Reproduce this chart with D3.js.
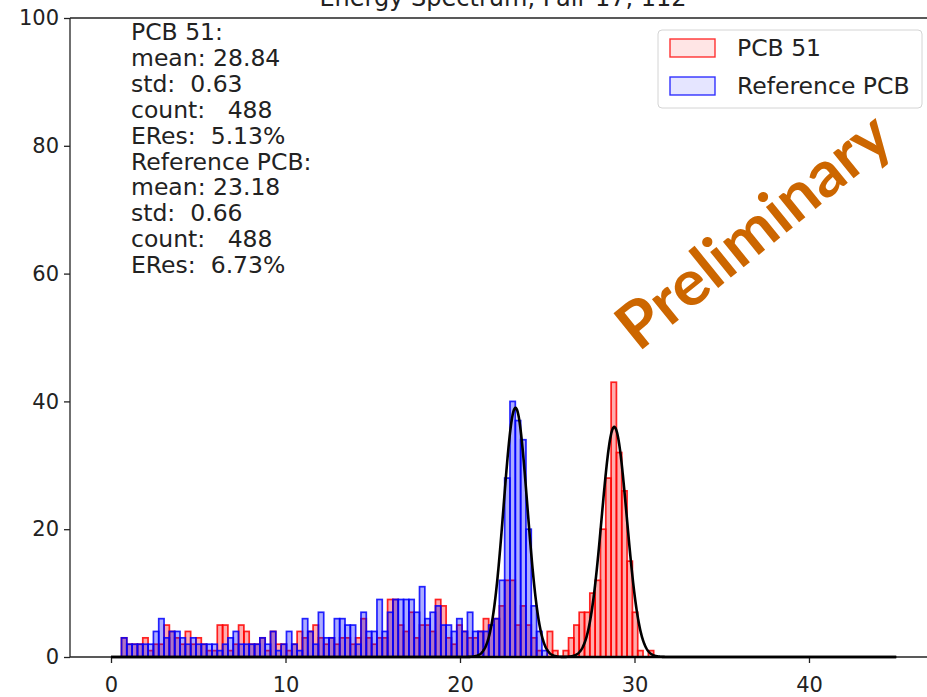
<!DOCTYPE html>
<html><head><meta charset="utf-8">
<script src="https://cdn.jsdelivr.net/npm/d3@7"></script>
<style>body{margin:0;background:#fff;} svg{display:block;font-family:"DejaVu Sans",sans-serif;}</style>
</head><body><svg id="c" width="927" height="697"></svg>
<script>
const titleText = "Energy Spectrum, Pair 17, 112";
const seriesNames = ["PCB 51", "Reference PCB"];
const binStart = 0.6;
const binWidth = 0.305;
const pcb51Counts = [
 3,2,2,2,3,1,2,2,5,4, 3,2,4,2,3,2,1,1,5,5,
 1,2,5,4,2,2,3,1,4,2, 2,1,2,4,3,4,5,3,2,3,
 2,3,3,2,3,6,3,2,3,3, 9,9,5,4,7,3,5,5,4,9,
 8,3,2,5,4,3,3,4,6,5, 6,8,12,12,5,8,5,3,1,0,
 4,1,0,1,3,5,7,7,10,12, 20,28,43,32,26,15,7,1,0,1];
const refCounts = [
 3,2,2,2,2,2,4,6,3,4, 4,3,2,3,2,2,2,2,1,2,
 3,4,2,2,2,2,3,2,4,1, 2,4,2,1,6,4,2,7,3,3,
 6,6,5,5,2,7,4,4,9,4, 7,9,9,9,9,7,11,6,7,8,
 5,5,4,6,4,7,4,4,4,5, 6,12,28,40,37,34,20,8,4,1,
 0,0,0,0,0,0,0,0,0,0, 0,0,0,0,0,0,0,0,0,0];
const fitMeans = [28.84, 23.18];
const fitStds = [0.72, 0.68];
const fitAmps = [36, 39];
const fitRange = [0, 45];
const statsLines = ["PCB 51:", "mean: 28.84", "std:  0.63", "count:   488", "ERes:  5.13%",
  "Reference PCB:", "mean: 23.18", "std:  0.66", "count:   488", "ERes:  6.73%"];
const xTicks = [0, 10, 20, 30, 40];
const yTicks = [0, 20, 40, 60, 80, 100];
const watermark = "Preliminary";

const colors = ["red", "blue"];
const svg = d3.select("#c");
const x = d3.scaleLinear().domain([-2.35, 47.25]).range([70, 935.5]);
const y = d3.scaleLinear().domain([0, 100]).range([657, 18]);

// title (partly cut off, as in the source image)
svg.append("text").attr("x", 503).attr("y", 6).attr("text-anchor", "middle")
  .attr("font-size", 24).attr("fill", "#222").text(titleText);

// bars
[pcb51Counts, refCounts].forEach((counts, si) => {
  const bins = counts.map((c, i) => ({x0: binStart + i * binWidth, x1: binStart + (i + 1) * binWidth, c}))
    .filter(d => d.c > 0);
  svg.append("g").selectAll("rect").data(bins).join("rect")
    .attr("x", d => x(d.x0)).attr("width", d => x(d.x1) - x(d.x0))
    .attr("y", d => y(d.c)).attr("height", d => y(0) - y(d.c))
    .attr("fill", colors[si]).attr("fill-opacity", 0.32)
    .attr("stroke", colors[si]).attr("stroke-opacity", 0.85).attr("stroke-width", 1.7);
});

// axes
const gx = svg.append("g").attr("transform", "translate(0,657)")
  .call(d3.axisBottom(x).tickValues(xTicks).tickSize(6).tickPadding(14).tickFormat(d3.format("d")));
const gy = svg.append("g").attr("transform", "translate(70,0)")
  .call(d3.axisLeft(y).tickValues(yTicks).tickSize(6).tickPadding(5).tickFormat(d3.format("d")));
[gx, gy].forEach(g => {
  g.select(".domain").remove();
  g.selectAll("line").attr("stroke", "#222").attr("stroke-width", 1.3);
  g.selectAll("text").attr("font-size", 21).attr("fill", "#222").attr("font-family", "DejaVu Sans");
});
// spines
svg.append("line").attr("x1", 70).attr("x2", 927).attr("y1", 657).attr("y2", 657).attr("stroke", "#222").attr("stroke-width", 1.3);
svg.append("line").attr("x1", 70).attr("x2", 927).attr("y1", 18).attr("y2", 18).attr("stroke", "#222").attr("stroke-width", 1.3);
svg.append("line").attr("x1", 70).attr("x2", 70).attr("y1", 18).attr("y2", 657).attr("stroke", "#222").attr("stroke-width", 1.3);

// fit curves
const line = d3.line().x(d => x(d[0])).y(d => y(d[1]));
fitMeans.forEach((m, i) => {
  const pts = d3.range(fitRange[0], fitRange[1] + 0.001, 0.02).map(v =>
    [v, fitAmps[i] * Math.exp(-0.5 * Math.pow((v - m) / fitStds[i], 2))]);
  svg.append("path").attr("d", line(pts)).attr("fill", "none").attr("stroke", "#000").attr("stroke-width", 2.6);
});

// stats text
const st = svg.append("text").attr("font-size", 23.5).attr("fill", "#222")
  .attr("xml:space", "preserve").style("white-space", "pre");
statsLines.forEach((l, i) => st.append("tspan").attr("x", 131).attr("y", 40 + i * 25.9).text(l));

// legend
const lg = svg.append("g");
lg.append("rect").attr("x", 658).attr("y", 30).attr("width", 264).attr("height", 78).attr("rx", 4)
  .attr("fill", "#fff").attr("fill-opacity", 0.85).attr("stroke", "#d4d4d4");
seriesNames.forEach((n, i) => {
  lg.append("rect").attr("x", 670).attr("y", 39 + i * 38).attr("width", 45).attr("height", 18)
    .attr("fill", colors[i]).attr("fill-opacity", 0.1).attr("stroke", colors[i]).attr("stroke-opacity", 0.8).attr("stroke-width", 1.4);
  lg.append("text").attr("x", 737).attr("y", 56 + i * 38).attr("font-size", 23.5).attr("fill", "#222").text(n);
});

// watermark
svg.append("text").attr("transform", "translate(752,229) rotate(-39)")
  .attr("text-anchor", "middle").attr("dominant-baseline", "central")
  .attr("font-family", "Lato, 'Open Sans', sans-serif").attr("font-weight", "bold")
  .attr("font-size", 64).attr("fill", "#cc6600")
  .attr("textLength", 332).attr("lengthAdjust", "spacingAndGlyphs").text(watermark);
</script></body></html>
